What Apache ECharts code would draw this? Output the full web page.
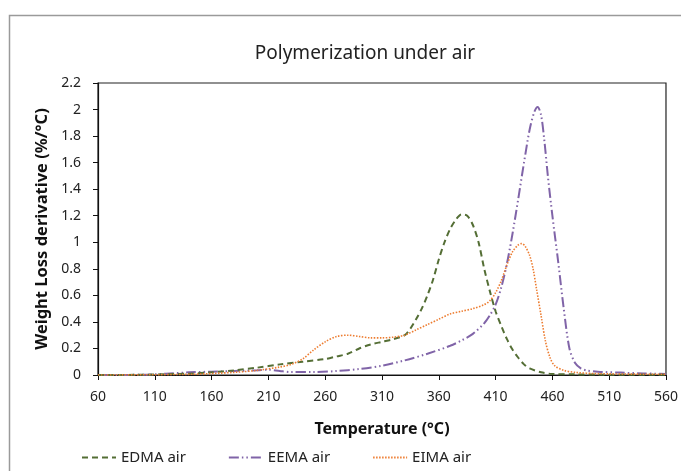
<!DOCTYPE html>
<html>
<head>
<meta charset="utf-8">
<script src="https://cdn.jsdelivr.net/npm/echarts@6/dist/echarts.min.js"></script>
<style>
html,body{margin:0;padding:0;background:#fff;}
#chart{width:681px;height:471px;}
</style>
</head>
<body>
<div id="chart"></div>
<script>
const title = 'Polymerization under air';
const xName = 'Temperature (°C)';
const yName = 'Weight Loss derivative (%/°C)';
const seriesNames = ['EDMA air', 'EEMA air', 'EIMA air'];

const edmaT = [60,100,140,160,180,200,220,240,260,270,280,290,300,310,320,330,335,340,345,350,355,360,365,370,375,380,385,390,395,400,405,410,415,420,425,430,435,440,450,460,480,500,560];
const edmaV = [0,0.002,0.01,0.02,0.035,0.055,0.08,0.1,0.12,0.14,0.16,0.2,0.23,0.25,0.27,0.3,0.35,0.42,0.5,0.6,0.72,0.87,1.0,1.1,1.17,1.21,1.2,1.13,1.0,0.8,0.63,0.48,0.37,0.27,0.19,0.13,0.08,0.05,0.02,0.008,0.005,0.003,0.002];

const eemaT = [60,100,120,140,160,180,200,210,220,230,250,270,290,310,330,350,370,380,390,400,405,410,415,420,425,430,435,440,444,447,450,453,456,460,465,470,475,480,485,490,500,520,540,560];
const eemaV = [0,0.002,0.01,0.02,0.025,0.03,0.035,0.04,0.03,0.022,0.022,0.03,0.045,0.07,0.11,0.16,0.22,0.26,0.31,0.39,0.45,0.53,0.66,0.84,1.07,1.33,1.6,1.85,1.98,2.02,1.96,1.76,1.5,1.2,0.86,0.5,0.2,0.09,0.05,0.035,0.025,0.018,0.012,0.008];

const eimaT = [60,140,180,200,220,230,240,250,260,270,280,290,300,310,320,330,340,350,360,370,380,390,400,405,410,415,420,425,430,433,436,440,443,446,450,454,458,462,470,480,500,560];
const eimaV = [0,0.005,0.02,0.035,0.06,0.08,0.12,0.19,0.25,0.29,0.30,0.29,0.28,0.28,0.285,0.3,0.34,0.38,0.42,0.46,0.48,0.5,0.53,0.56,0.62,0.71,0.83,0.93,0.98,0.99,0.97,0.9,0.8,0.65,0.45,0.25,0.13,0.07,0.035,0.02,0.01,0.005];

const pairs = (t, v) => t.map((x, i) => [x, v[i]]);

const font = 'Noto Sans';
const chart = echarts.init(document.getElementById('chart'), null, {renderer: 'canvas'});
chart.setOption({
  animation: false,
  backgroundColor: '#fff',
  textStyle: {fontFamily: font},
  graphic: [{
    type: 'rect',
    shape: {x: 9.5, y: 15.5, width: 720, height: 520},
    style: {fill: 'none', stroke: '#9a9a9a', lineWidth: 1.5},
    silent: true
  }],
  title: {
    text: title,
    left: 360, top: 39,
    textAlign: 'center',
    textStyle: {fontFamily: font, fontSize: 19, fontWeight: 'normal', color: '#222'}
  },
  grid: {left: 98, right: 13, top: 83, bottom: 96, show: true, borderColor: '#222', borderWidth: 1.2, backgroundColor: 'transparent'},
  legend: {
    data: seriesNames,
    bottom: 1, left: 76,
    itemWidth: 34, itemHeight: 10, itemGap: 42,
    itemStyle: {opacity: 0},
    textStyle: {fontFamily: font, fontSize: 15, color: '#222'}
  },
  xAxis: {
    type: 'value', min: 60, max: 560, interval: 50,
    name: xName, nameLocation: 'middle', nameGap: 46,
    nameTextStyle: {fontFamily: font, fontSize: 16, fontWeight: 'bold', color: '#111'},
    axisLine: {show: true, onZero: false, lineStyle: {color: '#111', width: 1.2}},
    axisTick: {show: true, length: 5, lineStyle: {color: '#111'}},
    axisLabel: {fontFamily: font, fontSize: 14, color: '#222', margin: 15},
    splitLine: {show: false}
  },
  yAxis: {
    type: 'value', min: 0, max: 2.2, interval: 0.2,
    name: yName, nameLocation: 'middle', nameGap: 47,
    nameTextStyle: {fontFamily: font, fontSize: 16.5, fontWeight: 'bold', color: '#111'},
    axisLine: {show: true, lineStyle: {color: '#111', width: 1.2}},
    axisTick: {show: true, length: 5, lineStyle: {color: '#111'}},
    axisLabel: {fontFamily: font, fontSize: 14, color: '#222', margin: 17},
    splitLine: {show: false}
  },
  series: [
    {name: seriesNames[0], type: 'line', data: pairs(edmaT, edmaV), symbol: 'none', smooth: 0.3, z: 3,
     lineStyle: {color: '#546e35', width: 2, type: [6, 4]}, itemStyle: {color: '#546e35'}},
    {name: seriesNames[1], type: 'line', data: pairs(eemaT, eemaV), symbol: 'none', smooth: 0.3, z: 2,
     lineStyle: {color: '#8064a8', width: 2, type: [10, 3, 1.5, 3, 1.5, 3]}, itemStyle: {color: '#8064a8'}},
    {name: seriesNames[2], type: 'line', data: pairs(eimaT, eimaV), symbol: 'none', smooth: 0.3, z: 4,
     lineStyle: {color: '#ed7d31', width: 1.6, type: [1.5, 1.5]}, itemStyle: {color: '#ed7d31'}}
  ]
});
</script>
</body>
</html>
